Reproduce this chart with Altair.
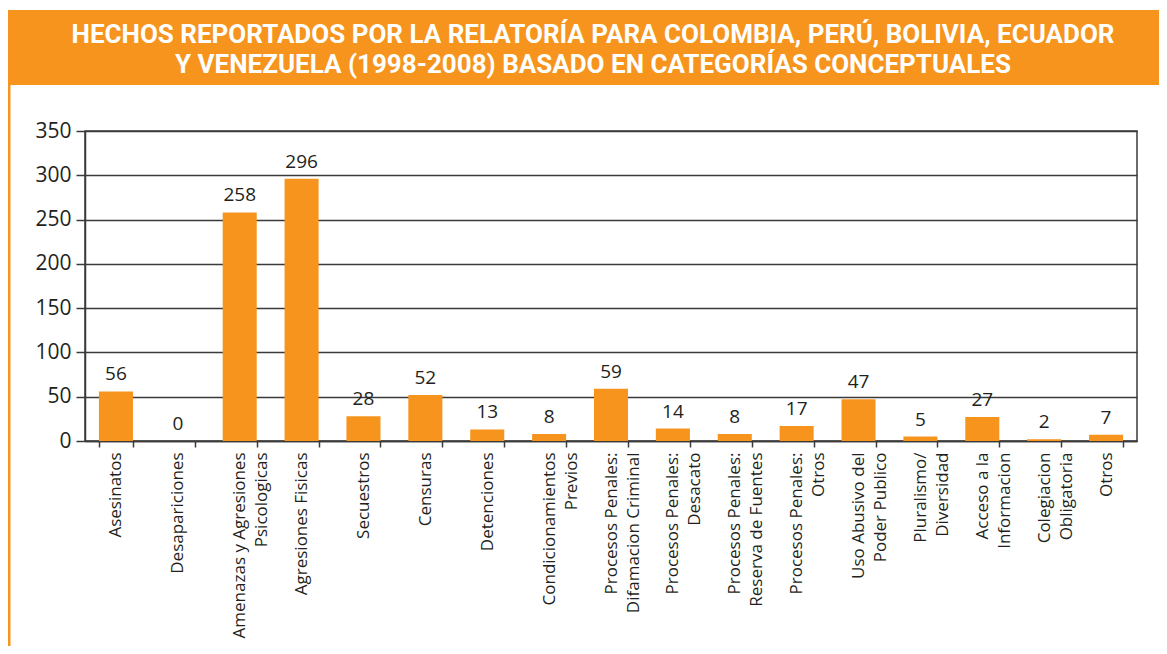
import altair as alt
import pandas as pd

categories = [
    "Asesinatos",
    "Desapariciones",
    "Amenazas y Agresiones\nPsicologicas",
    "Agresiones Fisicas",
    "Secuestros",
    "Censuras",
    "Detenciones",
    "Condicionamientos\nPrevios",
    "Procesos Penales:\nDifamacion Criminal",
    "Procesos Penales:\nDesacato",
    "Procesos Penales:\nReserva de Fuentes",
    "Procesos Penales:\nOtros",
    "Uso Abusivo del\nPoder Publico",
    "Pluralismo/\nDiversidad",
    "Acceso a la\nInformacion",
    "Colegiacion\nObligatoria",
    "Otros",
]
values = [56, 0, 258, 296, 28, 52, 13, 8, 59, 14, 8, 17, 47, 5, 27, 2, 7]
y_ticks = [0, 50, 100, 150, 200, 250, 300, 350]
title_text = ("HECHOS REPORTADOS POR LA RELATORÍA PARA COLOMBIA, PERÚ, BOLIVIA, ECUADOR\n"
              "Y VENEZUELA (1998-2008) BASADO EN CATEGORÍAS CONCEPTUALES")

ORANGE = "#F7941D"
DARK = "#3a3a3a"
FONT = "Open Sans"
W, H = 1052, 310

df = pd.DataFrame({"cat": categories, "val": values})
one = pd.DataFrame({"t": [title_text]})

x_enc = alt.X(
    "cat:N", sort=categories, title=None,
    scale=alt.Scale(paddingInner=0.45, paddingOuter=0.225),
    axis=alt.Axis(
        labelAngle=-90, labelExpr="split(datum.label, '\\n')",
        labelFont=FONT, labelFontSize=17, labelColor="#231F20",
        labelLineHeight=22, labelPadding=5, labelLimit=0,
        tickBand="extent", tickSize=6, tickColor=DARK, tickWidth=1.5,
        domainColor=DARK, domainWidth=1.5, grid=False,
    ),
)
y_enc = alt.Y(
    "val:Q", title=None,
    scale=alt.Scale(domain=[0, 350], nice=False),
    axis=alt.Axis(
        values=y_ticks, labelFont=FONT, labelFontSize=21, labelColor="#231F20",
        labelPadding=5, tickSize=9, tickColor=DARK, tickWidth=1.5,
        domainColor=DARK, domainWidth=1.5,
        grid=True, gridColor=DARK, gridWidth=1.5, gridOpacity=1,
    ),
)

bars = alt.Chart(df).mark_bar(color=ORANGE).encode(x=x_enc, y=y_enc)
labels = alt.Chart(df).mark_text(
    baseline="bottom", dy=-7, font=FONT, fontSize=19, color="#231F20"
).encode(x=alt.X("cat:N", sort=categories), y="val:Q", text="val:Q")

band = alt.Chart(one).mark_rect(color=ORANGE).encode(
    x=alt.value(-77), x2=alt.value(W + 22), y=alt.value(-121), y2=alt.value(-46)
)
side = alt.Chart(one).mark_rule(color=ORANGE, strokeWidth=3).encode(
    x=alt.value(-76), y=alt.value(-46), y2=alt.value(H + 205)
)
title = alt.Chart(one).mark_text(
    font="Roboto", fontWeight="bold", fontSize=26, color="white",
    lineBreak="\n", lineHeight=30, align="center", baseline="middle",
).encode(text="t:N", x=alt.value(508), y=alt.value(-96))

chart = alt.layer(band, side, title, bars, labels).properties(
    width=W, height=H,
    autosize=alt.AutoSizeParams(type="none"),
    padding={"left": 77, "top": 123, "right": 22, "bottom": 205},
).configure_view(stroke=DARK, strokeWidth=1.5)

chart.save("out.html", embed_options={"renderer": "svg", "actions": False})
